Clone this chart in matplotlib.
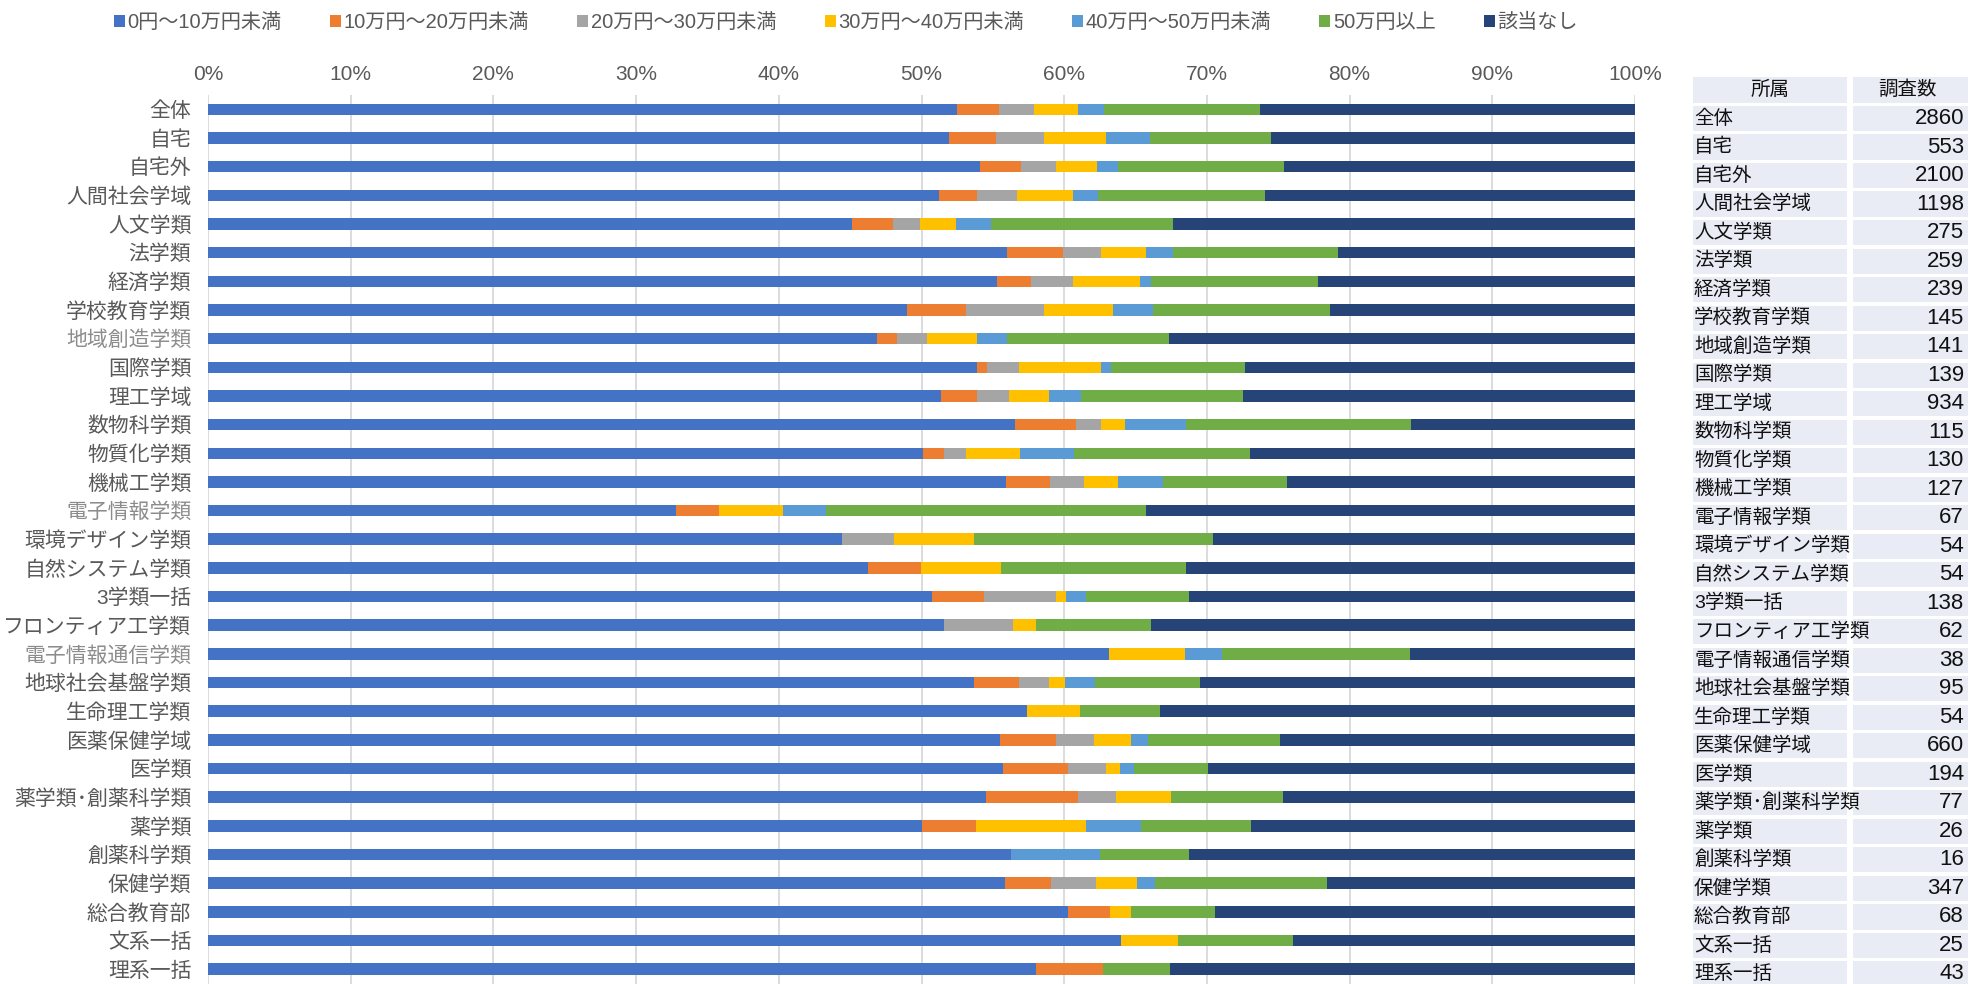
import numpy as np
from matplotlib import pyplot as plt
from matplotlib.patches import Rectangle

plt.rcParams['font.family'] = ['Liberation Sans', 'Noto Sans CJK JP', 'DejaVu Sans']

# categories (top to bottom)
categories = ['全体', '自宅', '自宅外', '人間社会学域', '人文学類', '法学類', '経済学類',
              '学校教育学類', '地域創造学類', '国際学類', '理工学域', '数物科学類',
              '物質化学類', '機械工学類', '電子情報学類', '環境デザイン学類',
              '自然システム学類', '3学類一括', 'フロンティア工学類', '電子情報通信学類',
              '地球社会基盤学類', '生命理工学類', '医薬保健学域', '医学類',
              '薬学類･創薬科学類', '薬学類', '創薬科学類', '保健学類', '総合教育部',
              '文系一括', '理系一括']
gray_labels = ['地域創造学類', '電子情報学類', '電子情報通信学類']

series_names = ['0円～10万円未満', '10万円～20万円未満', '20万円～30万円未満',
                '30万円～40万円未満', '40万円～50万円未満', '50万円以上', '該当なし']

# percentages per category
s_0_10 = [52.5, 51.9, 54.1, 51.2, 45.1, 56.0, 55.3, 49.0, 46.8, 53.9, 51.4, 56.5, 50.0, 55.9,
          32.8, 44.4, 46.3, 50.7, 51.6, 63.2, 53.7, 57.4, 55.5, 55.7, 54.5, 50.0, 56.25, 55.9,
          60.3, 64.0, 58.1]
s_10_20 = [2.9, 3.3, 2.9, 2.7, 2.9, 3.9, 2.4, 4.1, 1.4, 0.7, 2.5, 4.3, 1.5, 3.1,
           3.0, 0.0, 3.7, 3.6, 0.0, 0.0, 3.2, 0.0, 3.9, 4.6, 6.5, 3.8, 0.0, 3.2,
           2.9, 0.0, 4.7]
s_20_30 = [2.5, 3.4, 2.4, 2.8, 1.9, 2.7, 2.9, 5.5, 2.1, 2.2, 2.2, 1.7, 1.5, 2.4,
           0.0, 3.7, 0.0, 5.1, 4.8, 0.0, 2.1, 0.0, 2.7, 2.6, 2.6, 0.0, 0.0, 3.2,
           0.0, 0.0, 0.0]
s_30_40 = [3.1, 4.3, 2.9, 3.9, 2.5, 3.1, 4.7, 4.8, 3.5, 5.8, 2.8, 1.7, 3.8, 2.4,
           4.5, 5.6, 5.6, 0.7, 1.6, 5.3, 1.1, 3.7, 2.6, 1.0, 3.9, 7.7, 0.0, 2.9,
           1.5, 4.0, 0.0]
s_40_50 = [1.8, 3.1, 1.5, 1.8, 2.5, 1.9, 0.8, 2.8, 2.1, 0.7, 2.3, 4.3, 3.8, 3.1,
           3.0, 0.0, 0.0, 1.4, 0.0, 2.6, 2.1, 0.0, 1.2, 1.0, 0.0, 3.8, 6.25, 1.2,
           0.0, 0.0, 0.0]
s_50plus = [10.9, 8.5, 11.6, 11.7, 12.7, 11.6, 11.7, 12.4, 11.3, 9.4, 11.3, 15.7, 12.3, 8.7,
            22.4, 16.7, 13.0, 7.2, 8.1, 13.2, 7.4, 5.6, 9.2, 5.2, 7.8, 7.7, 6.25, 12.1,
            5.9, 8.0, 4.7]
s_none = [26.3, 25.5, 24.6, 25.9, 32.4, 20.8, 22.2, 21.4, 32.6, 27.3, 27.5, 15.7, 26.9, 24.4,
          34.3, 29.6, 31.5, 31.2, 33.9, 15.8, 30.5, 33.3, 24.9, 29.9, 24.7, 26.9, 31.25, 21.6,
          29.4, 24.0, 32.6]

counts = [2860, 553, 2100, 1198, 275, 259, 239, 145, 141, 139, 934, 115, 130, 127, 67, 54,
          54, 138, 62, 38, 95, 54, 660, 194, 77, 26, 16, 347, 68, 25, 43]

colors = ['#4472C4', '#ED7D31', '#A5A5A5', '#FFC000', '#5B9BD5', '#70AD47', '#264478']

data = np.array([s_0_10, s_10_20, s_20_30, s_30_40, s_40_50, s_50plus, s_none])
data = data / data.sum(axis=0) * 100  # each bar to 100%

W, H = 1968, 984
fig = plt.figure(figsize=(W / 100, H / 100), dpi=100)

# main chart
ax = fig.add_axes([208 / W, 0, (1635 - 208) / W, 1 - 95 / H])
y = np.arange(len(categories))
left = np.zeros(len(categories))
handles = []
for vals, name, col in zip(data, series_names, colors):
    b = ax.barh(y, vals, left=left, height=0.4, color=col, label=name, zorder=3)
    handles.append(b)
    left += vals

ax.set_xlim(0, 100)
ax.set_ylim(len(categories) - 0.5 + 0.02, -0.5)
ax.set_xticks(np.arange(0, 101, 10))
ax.set_xticklabels([f'{v}%' for v in range(0, 101, 10)])
ax.xaxis.tick_top()
ax.set_yticks(y)
ax.set_yticklabels(categories)
ax.tick_params(axis='x', length=0, pad=8, labelsize=15, colors='#595959')
ax.tick_params(axis='y', length=0, pad=12, labelsize=15, colors='#595959')
for lbl in ax.get_yticklabels():
    if lbl.get_text() in gray_labels:
        lbl.set_color('#8C8C8C')
ax.grid(axis='x', color='#D9D9D9', linewidth=1.3, zorder=0)
for sp in ax.spines.values():
    sp.set_visible(False)

# legend across the top
fig.legend(handles=handles, loc='upper left', bbox_to_anchor=(96 / W, 1.005), ncol=7,
           frameon=False, fontsize=14.5, handlelength=0.55, handleheight=0.55,
           handletextpad=0.12, columnspacing=2.4, labelcolor='#595959')

# table on the right
tx = fig.add_axes([1690 / W, 0, (W - 1690) / W, 1 - 76 / H])
tx.set_xlim(1690, W)
tx.set_ylim((984 - 119) / 28.5, -1.49)
tx.axis('off')
cell_bg = '#E9EBF5'
rh = 0.88
tx.add_patch(Rectangle((1693, -1 - rh / 2), 154, rh, color=cell_bg, lw=0))
tx.add_patch(Rectangle((1853, -1 - rh / 2), 115, rh, color=cell_bg, lw=0))
tx.text(1770, -1, '所属', ha='center', va='center', fontsize=14, color='#111111')
tx.text(1908, -1, '調査数', ha='center', va='center', fontsize=14, color='#111111')
for i, (cat, n) in enumerate(zip(categories, counts)):
    tx.add_patch(Rectangle((1693, i - rh / 2), 154, rh, color=cell_bg, lw=0))
    tx.add_patch(Rectangle((1853, i - rh / 2), 115, rh, color=cell_bg, lw=0))
    tx.text(1694, i, cat, ha='left', va='center', fontsize=14, color='#111111')
    tx.text(1964, i, str(n), ha='right', va='center', fontsize=16, color='#111111')

plt.savefig('out.png', dpi=100)
